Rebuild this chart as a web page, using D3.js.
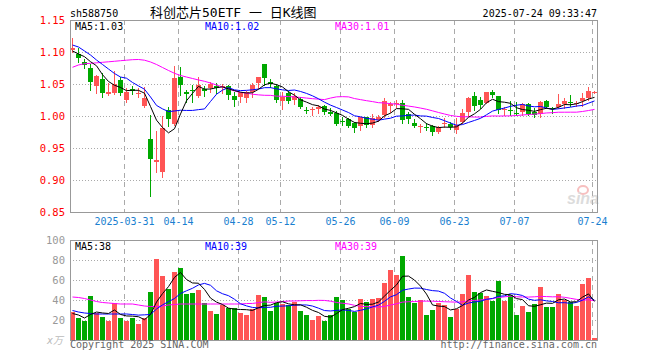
<!DOCTYPE html>
<html>
<head>
<meta charset="utf-8">
<script src="https://cdn.jsdelivr.net/npm/d3@7"></script>
<style>
body { margin: 0; background: #fff; }
svg text { font-family: "DejaVu Sans Mono", "Noto Sans CJK SC", monospace; font-size: 10px; }
</style>
</head>
<body>
<div id="chart"></div>
<script>
// trading days shown (2025)
const dates = [
  "03-18","03-19","03-20","03-21","03-24","03-25","03-26","03-27","03-28","03-31",
  "04-01","04-02","04-03","04-07","04-08","04-09","04-10","04-11","04-14","04-15",
  "04-16","04-17","04-18","04-21","04-22","04-23","04-24","04-25","04-28","04-29",
  "04-30","05-06","05-07","05-08","05-09","05-12","05-13","05-14","05-15","05-16",
  "05-19","05-20","05-21","05-22","05-23","05-26","05-27","05-28","05-29","05-30",
  "06-03","06-04","06-05","06-06","06-09","06-10","06-11","06-12","06-13","06-16",
  "06-17","06-18","06-19","06-20","06-23","06-24","06-25","06-26","06-27","06-30",
  "07-01","07-02","07-03","07-04","07-07","07-08","07-09","07-10","07-11","07-14",
  "07-15","07-16","07-17","07-18","07-21","07-22","07-23","07-24"];

const opens = [
  1.1016,1.0969,1.0839,1.0755,1.0473,1.0578,1.0344,1.0367,1.0563,1.025,
  1.0417,1.0344,1.0145,0.9641,0.9286,0.913,1.0086,0.9883,1.0609,1.038,
  1.0406,1.0313,1.0417,1.043,1.0469,1.0438,1.0469,1.0313,1.0286,1.0286,
  1.038,1.0511,1.0813,1.0527,1.0473,1.0242,1.036,1.025,1.0266,1.0094,
  1.0086,1.012,1.0156,1.0067,1.0052,0.9927,0.9948,0.9886,0.9839,0.998,
  0.9855,0.9938,1.0008,1.0164,1.0192,1.0208,1.0027,0.9895,0.9823,0.9833,
  0.9844,0.9755,0.987,0.987,0.9781,0.9911,1.0067,1.0313,1.025,1.0208,
  1.0375,1.0313,1.0086,1.0098,1.0042,1.0055,1.0191,1.0067,1.0042,1.0234,
  1.012,1.0141,1.0188,1.0219,1.0192,1.0227,1.0277,1.0364];
const highs = [
  1.1211,1.1055,1.0891,1.0813,1.064,1.0667,1.0516,1.0703,1.0614,1.0433,
  1.0469,1.0438,1.0458,1.0016,0.9766,1.0,1.0136,1.0781,1.0758,1.0406,
  1.0484,1.0609,1.0461,1.0536,1.0511,1.05,1.0477,1.038,1.038,1.0391,
  1.0511,1.0614,1.082,1.0573,1.05,1.037,1.0395,1.0364,1.0297,1.0136,
  1.0136,1.0172,1.0172,1.012,1.0078,0.9989,0.9964,0.9911,0.9989,0.9989,
  1.0036,1.0008,1.0281,1.0223,1.025,1.025,1.0067,0.9948,0.9875,0.9886,
  0.9859,0.9844,0.9964,0.9911,0.9964,1.0105,1.0302,1.038,1.0302,1.038,
  1.0406,1.0313,1.0136,1.0242,1.0223,1.0198,1.0208,1.012,1.0239,1.025,
  1.0145,1.0339,1.0277,1.0328,1.0239,1.0364,1.0458,1.0391];
const lows = [
  1.1,1.0844,1.075,1.0406,1.0364,1.0302,1.0328,1.0344,1.0328,1.0223,
  1.0344,1.0297,1.0136,0.8755,0.9125,0.9052,0.9844,0.9859,1.0328,1.0219,
  1.0223,1.0297,1.032,1.038,1.036,1.036,1.0266,1.0161,1.0223,1.0223,
  1.0302,1.0438,1.0484,1.0458,1.0223,1.0109,1.0208,1.0188,1.0125,1.0042,
  1.0016,1.0052,1.0031,1.0016,0.9864,0.9859,0.9823,0.9755,0.9777,0.9823,
  0.9833,0.9922,0.9977,1.0067,1.0145,0.9886,0.9886,0.9833,0.9755,0.9781,
  0.9703,0.973,0.9833,0.9792,0.973,0.9886,1.0,1.0094,1.012,1.0198,
  1.0302,1.0052,1.0016,1.0016,1.0016,1.0016,1.0016,0.998,0.9989,1.013,
  1.0047,1.012,1.012,1.0164,1.0156,1.0164,1.025,1.036];
const closes = [
  1.1055,1.0906,1.0797,1.0536,1.063,1.0359,1.0375,1.05,1.0367,1.038,
  1.0391,1.0367,1.0277,0.9328,0.9313,0.9817,0.9948,1.0598,1.0484,1.0344,
  1.0395,1.0492,1.0383,1.0495,1.0445,1.0461,1.0336,1.025,1.037,1.038,
  1.0484,1.0605,1.0598,1.05,1.0261,1.0302,1.0238,1.032,1.0145,1.0078,
  1.0105,1.0145,1.0067,1.0042,0.9886,0.9911,0.9844,0.9813,0.998,0.9848,
  0.9964,0.9989,1.0234,1.0188,1.0203,0.9948,0.9948,0.9844,0.9844,0.9817,
  0.9755,0.9833,0.9886,0.9823,0.9859,1.0052,1.0281,1.0156,1.0172,1.0375,
  1.0323,1.0098,1.0109,1.0086,1.0031,1.018,1.0042,1.0023,1.0223,1.0136,
  1.0105,1.0192,1.0242,1.0203,1.0208,1.0277,1.0394,1.0375];
// volume, 万手
const volumes = [
  27.7,22,19.3,44.3,26.7,23,19.3,36.7,22,19.3,
  22,16.3,22,48,81.3,64.3,51.3,68.3,72.3,46.3,
  47,50,37.3,29,26.3,35,31.7,32.3,27.3,25.3,
  31.3,45.3,43.3,29.3,37.3,36,35,38.3,29.3,25.3,
  20.3,24.3,19.3,25.3,43,40,31,27.7,41,38.3,
  41,42,57.3,70,65,84.3,43,37.3,40,25,
  30,37.3,35,23,31,46,65,48,47,44.3,
  39,59,39,45,25,34,28.3,36,53,33,
  33,46,40,38.3,34,56,62.3,2.3];

// MA values before the window is full
const ma5Lead = [1.1016,1.0969,1.0927,1.0849];
const ma10Lead = [1.1109,1.1078,1.1016,1.0953,1.0875,1.0805,1.0734,1.0664,1.0609];
const ma30Lead = [1.0761,1.0797,1.0817,1.0823,1.0831,1.0839,1.0847,1.0855,1.0864,1.0872,
  1.088,1.0883,1.0872,1.0844,1.0805,1.0758,1.0711,1.0667,1.0633,1.0609,
  1.0586,1.0563,1.0542,1.0516,1.0484,1.0453,1.0422,1.0391,1.0367];
const vol5Lead = [26.5,25,22,25.5];
const vol10Lead = [29.5,28,27,26.5,26,26,26,26,26];
const vol30Lead = [43,42.5,41.5,40,38.5,37.5,37,36.5,36,36,36,35,34,33.5,33.5,34,35,35.5,
  36,36,36,36,36,36,36,36,36,36,36];

const tickDates = ["03-31","04-14","04-28","05-12","05-26","06-09","06-23","07-07","07-24"];
const tickLabels = ["2025-03-31","04-14","04-28","05-12","05-26","06-09","06-23","07-07","07-24"];
const priceTicks = [0.85,0.90,0.95,1.00,1.05,1.10,1.15];
const volTicks = [20,40,60,80,100];

const width = 660, height = 360;
const left = 70, right = 597;
const red = "#ff5555", green = "#00a800";

let svg = d3.select("#chart").append("svg")
    .attr("width", width)
    .attr("height", height);

let x = d3.scaleBand().domain(dates).range([69, 597]);
let y = d3.scaleLinear().domain([0.85, 1.15]).range([212, 20]);
let yv = d3.scaleLinear().domain([0, 100]).range([340, 240]);

function movingAvg(vals, n, lead) {
  return vals.map((v, i) => i < n - 1 ? lead[i] : d3.mean(vals.slice(i - n + 1, i + 1)));
}

let candles = dates.map((d, i) => ({date: d, o: opens[i], h: highs[i], l: lows[i], c: closes[i], v: volumes[i]}));

// grid
let grid = svg.append("g").attr("shape-rendering", "crispEdges");
grid.selectAll(".hp")
    .data(priceTicks.slice(1, -1))
  .enter().append("line")
    .attr("x1", left).attr("x2", right)
    .attr("y1", d => Math.round(y(d)) + 0.5).attr("y2", d => Math.round(y(d)) + 0.5)
    .attr("stroke", "#aaa").attr("stroke-dasharray", "1,2");
grid.selectAll(".hv")
    .data(volTicks.slice(0, -1))
  .enter().append("line")
    .attr("x1", left).attr("x2", right)
    .attr("y1", d => yv(d) + 0.5).attr("y2", d => yv(d) + 0.5)
    .attr("stroke", "#aaa").attr("stroke-dasharray", "1,2");
[[20, 212], [240, 340]].forEach(r => {
  grid.selectAll(null)
      .data(tickDates)
    .enter().append("line")
      .attr("x1", d => x(d) + 1.5).attr("x2", d => x(d) + 1.5)
      .attr("y1", r[0]).attr("y2", r[1])
      .attr("stroke", "#aaa").attr("stroke-dasharray", "5,4");
});

// watermark
let wm = svg.append("g").attr("opacity", 0.5);
wm.append("ellipse").attr("cx", 583).attr("cy", 190).attr("rx", 5).attr("ry", 4)
    .attr("fill", "none").attr("stroke", "#f08080").attr("stroke-width", 2);
wm.append("text").attr("x", 567).attr("y", 204)
    .style("font-family", "Liberation Sans").style("font-size", "16px")
    .style("font-weight", "bold").style("font-style", "italic")
    .attr("fill", "#bbb").text("sina");

// candles
let cg = svg.append("g").attr("shape-rendering", "crispEdges");
cg.selectAll(".wick")
    .data(candles)
  .enter().append("line")
    .attr("x1", d => x(d.date) + 3.5).attr("x2", d => x(d.date) + 3.5)
    .attr("y1", d => Math.round(y(d.h))).attr("y2", d => Math.round(y(d.l)) + 1)
    .attr("stroke", d => d.c >= d.o ? red : green);
cg.selectAll(".body")
    .data(candles)
  .enter().append("rect")
    .attr("x", d => x(d.date) + 1)
    .attr("width", 5)
    .attr("y", d => Math.round(y(Math.max(d.o, d.c))))
    .attr("height", d => Math.max(1, Math.round(Math.abs(y(d.o) - y(d.c)))))
    .attr("fill", d => d.c >= d.o ? red : green);

// volume bars
cg.selectAll(".vol")
    .data(candles)
  .enter().append("rect")
    .attr("x", d => x(d.date) + 1)
    .attr("width", 5)
    .attr("y", d => Math.round(yv(d.v)))
    .attr("height", d => 340 - Math.round(yv(d.v)))
    .attr("fill", d => d.c >= d.o ? red : green);

// moving averages
let ma5 = movingAvg(closes, 5, ma5Lead),
    ma10 = movingAvg(closes, 10, ma10Lead),
    ma30 = movingAvg(closes, 30, ma30Lead);
let vma5 = movingAvg(volumes, 5, vol5Lead),
    vma10 = movingAvg(volumes, 10, vol10Lead),
    vma30 = movingAvg(volumes, 30, vol30Lead);

let priceLine = d3.line().x((d, i) => x(dates[i]) + 3.5).y(d => y(d));
let volLine = d3.line().x((d, i) => x(dates[i]) + 3.5).y(d => yv(d));
[[ma30, "#ff00ff"], [ma10, "#0000ff"], [ma5, "#000"]].forEach(m => {
  svg.append("path").attr("d", priceLine(m[0])).attr("fill", "none").attr("stroke", m[1]).attr("stroke-width", 1);
});
[[vma30, "#ff00ff"], [vma10, "#0000ff"], [vma5, "#000"]].forEach(m => {
  svg.append("path").attr("d", volLine(m[0])).attr("fill", "none").attr("stroke", m[1]).attr("stroke-width", 1);
});

// frames
let frame = svg.append("g").attr("shape-rendering", "crispEdges").attr("fill", "none").attr("stroke", "#999");
frame.append("rect").attr("x", left + 0.5).attr("y", 20.5).attr("width", right - left).attr("height", 192);
frame.append("rect").attr("x", left + 0.5).attr("y", 240.5).attr("width", right - left).attr("height", 100);

// axes labels
svg.append("g")
    .attr("transform", "translate(" + left + ",0)")
    .call(d3.axisLeft(y).tickValues(priceTicks).tickFormat(d3.format(".2f")).tickSize(0).tickPadding(5))
    .call(g => g.select(".domain").remove())
    .selectAll("text")
    .attr("fill", "#f00")
    .style("font-family", "DejaVu Sans Mono")
    .style("font-size", "10.5px");

svg.append("g")
    .attr("transform", "translate(" + left + ",0)")
    .call(d3.axisLeft(yv).tickValues(volTicks).tickSize(0).tickPadding(5))
    .call(g => g.select(".domain").remove())
    .selectAll("text")
    .attr("fill", "#999")
    .style("font-family", "DejaVu Sans Mono")
    .style("font-size", "10.5px");

svg.selectAll(".xlab")
    .data(tickDates)
  .enter().append("text")
    .attr("x", d => x(d) + 1.5)
    .attr("y", 225)
    .attr("text-anchor", "middle")
    .attr("fill", "#1a7fd0")
    .text((d, i) => tickLabels[i]);

// header texts
svg.append("text").attr("x", 70).attr("y", 17).attr("fill", "#000").text("sh588750");
svg.append("text").attr("x", 150).attr("y", 17).attr("fill", "#000")
    .style("font-size", "13px").text("科创芯片50ETF 一 日K线图");
svg.append("text").attr("x", 597).attr("y", 17).attr("text-anchor", "end").attr("fill", "#000")
    .text("2025-07-24 09:33:47");

let f2 = d3.format(".2f");
let last = closes.length - 1;
svg.append("text").attr("x", 75).attr("y", 30).attr("fill", "#000").text("MA5:" + f2(ma5[last]));
svg.append("text").attr("x", 205).attr("y", 30).attr("fill", "#0000ff").text("MA10:" + f2(ma10[last]));
svg.append("text").attr("x", 335).attr("y", 30).attr("fill", "#ff00ff").text("MA30:" + f2(ma30[last]));

svg.append("text").attr("x", 75).attr("y", 250).attr("fill", "#000").text("MA5:" + Math.floor(vma5[last]));
svg.append("text").attr("x", 205).attr("y", 250).attr("fill", "#0000ff").text("MA10:" + Math.floor(vma10[last]));
svg.append("text").attr("x", 335).attr("y", 250).attr("fill", "#ff00ff").text("MA30:" + Math.floor(vma30[last]));

svg.append("text").attr("x", 63).attr("y", 344).attr("text-anchor", "end")
    .attr("fill", "#bbb").style("font-style", "italic").text("x万");

svg.append("text").attr("x", 70).attr("y", 348).attr("fill", "#666").text("Copyright 2025 SINA.COM");
svg.append("text").attr("x", 597).attr("y", 348).attr("text-anchor", "end").attr("fill", "#666")
    .text("http://finance.sina.com.cn");
</script>
</body>
</html>
